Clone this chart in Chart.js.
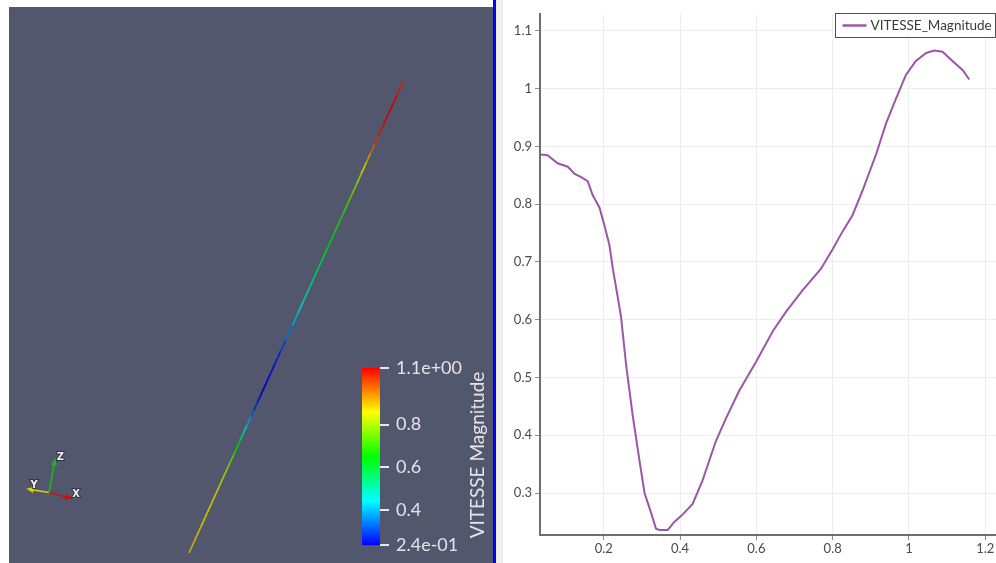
<!DOCTYPE html>
<html><head><meta charset="utf-8">
<script src="https://cdn.jsdelivr.net/npm/chart.js@4.4.1/dist/chart.umd.min.js"></script>
<style>
html,body{margin:0;padding:0;width:996px;height:563px;overflow:hidden;background:#fff;}
.abs{position:absolute;}
</style></head><body>
<div class="abs" style="left:9px;top:7px;width:484px;height:556px;background:#52576e"></div>
<canvas id="view3d" class="abs" width="484" height="556" style="left:9px;top:7px"></canvas>
<canvas id="cbar" class="abs" width="140" height="213" style="left:352px;top:350px"></canvas>
<div class="abs" style="left:493px;top:0;width:3px;height:563px;background:#0000ff"></div>
<div class="abs" style="left:496px;top:0;width:7px;height:563px;background:#f0f0f0"></div>
<canvas id="plot" class="abs" width="510" height="563" style="left:503px;top:0"></canvas>
<script>
// ---- data ----
const arcLength = [0.033,0.053,0.079,0.106,0.123,0.141,0.158,0.171,0.189,0.202,0.215,0.224,0.245,0.259,0.276,0.293,0.307,0.324,0.337,0.346,0.368,0.385,0.407,0.433,0.459,0.494,0.521,0.555,0.599,0.643,0.678,0.721,0.769,0.800,0.826,0.852,0.879,0.914,0.940,0.966,0.992,1.018,1.045,1.066,1.088,1.114,1.141,1.158];
const vitesse = [0.886,0.885,0.871,0.865,0.853,0.847,0.840,0.816,0.794,0.763,0.729,0.688,0.607,0.520,0.434,0.359,0.300,0.266,0.238,0.236,0.236,0.250,0.263,0.281,0.322,0.390,0.430,0.477,0.527,0.580,0.614,0.651,0.688,0.722,0.753,0.781,0.825,0.887,0.940,0.983,1.024,1.048,1.062,1.066,1.064,1.048,1.032,1.016];
const xTickValues = [0.2,0.4,0.6,0.8,1,1.2];
const yTickValues = [0.3,0.4,0.5,0.6,0.7,0.8,0.9,1,1.1];
const cbarTickValues = [0.4,0.6,0.8];
const seriesLabel = 'VITESSE_Magnitude';
const cbarTitle = 'VITESSE Magnitude';

const vmin = Math.min(...vitesse), vmax = Math.max(...vitesse);
const FONT = 'Lato';

// colormap (blue -> cyan -> green -> yellow -> red)
const cmapStops = [[0,[0,0,255]],[0.25,[0,255,255]],[0.5,[0,255,0]],[0.75,[255,255,0]],[1,[255,0,0]]];
function cmap(v, k){
  k = k===undefined?1:k;
  let f = (v - vmin)/(vmax - vmin); f = Math.max(0, Math.min(1, f));
  for (let i=1;i<cmapStops.length;i++){
    if (f <= cmapStops[i][0]){
      const [f0,c0]=cmapStops[i-1],[f1,c1]=cmapStops[i];
      const t=(f-f0)/(f1-f0);
      const c=c0.map((a,j)=>Math.round((a+(c1[j]-a)*t)*k));
      return `rgb(${c[0]},${c[1]},${c[2]})`;
    }
  }
  return 'rgb(255,0,0)';
}
function sci(v){
  let e=Math.floor(Math.log10(Math.abs(v)));
  let ms=(v/Math.pow(10,e)).toFixed(1);
  if (ms==='10.0'){e++; ms=(v/Math.pow(10,e)).toFixed(1);}
  return ms+'e'+(e<0?'-':'+')+String(Math.abs(e)).padStart(2,'0');
}

// ---- 3D view: the probe line, perspective projection of arc length ----
const s0 = arcLength[0], s1 = arcLength[arcLength.length-1], persp = 1.35;
function proj(s){ const t=(s-s0)/(s1-s0); return persp*t/(1+(persp-1)*t); }

const triadPlugin = {
  id:'triad',
  afterDraw(chart){
    const ctx=chart.ctx;
    const o=[40,485.5];
    const axes=[
      {tip:[18.5,482],col:'#d8d000',lab:'Y',lp:[25,478]},
      {tip:[62.5,491.5],col:'#cc1010',lab:'X',lp:[67,487]},
      {tip:[46,452.5],col:'#10c010',lab:'Z',lp:[51.5,450]}
    ];
    ctx.save();
    axes.forEach(a=>{
      ctx.strokeStyle=a.col; ctx.lineWidth=1.6;
      ctx.beginPath(); ctx.moveTo(o[0],o[1]); ctx.lineTo(a.tip[0],a.tip[1]); ctx.stroke();
      const dx=a.tip[0]-o[0], dy=a.tip[1]-o[1], L=Math.hypot(dx,dy), ux=dx/L, uy=dy/L;
      const bx=a.tip[0]-ux*6, by=a.tip[1]-uy*6;
      ctx.fillStyle=a.col;
      ctx.beginPath(); ctx.moveTo(a.tip[0]+ux*1,a.tip[1]+uy*1);
      ctx.lineTo(bx-uy*3,by+ux*3); ctx.lineTo(bx+uy*3,by-ux*3); ctx.closePath(); ctx.fill();
      ctx.font='bold 10px "DejaVu Sans"'; ctx.textAlign='center'; ctx.textBaseline='middle';
      ctx.lineWidth=2; ctx.strokeStyle='rgba(40,40,50,0.8)'; ctx.strokeText(a.lab,a.lp[0],a.lp[1]);
      ctx.fillStyle='#f0f0f0'; ctx.fillText(a.lab,a.lp[0],a.lp[1]);
    });
    ctx.restore();
  }
};

new Chart(document.getElementById('view3d'),{
  type:'scatter',
  data:{datasets:[{
    data: arcLength.map((s)=>({x:proj(s),y:proj(s)})),
    showLine:true, pointRadius:0, borderWidth:1.7, tension:0, clip:false,
    segment:{borderColor: c => cmap((vitesse[c.p0DataIndex]+vitesse[c.p1DataIndex])/2, 0.78)}
  }]},
  options:{responsive:false, animation:false, events:[],
    layout:{padding:0},
    plugins:{legend:{display:false},tooltip:{enabled:false}},
    scales:{
      x:{type:'linear',display:false,min:-0.8411,max:1.4206},
      y:{type:'linear',display:false,min:-0.02123,max:1.15924}
    }
  },
  plugins:[triadPlugin]
});

// ---- colour bar ----
const cbarTitlePlugin = {
  id:'cbarTitle',
  afterDraw(chart){
    const ctx=chart.ctx;
    ctx.save();
    ctx.translate(126,105); ctx.rotate(-Math.PI/2);
    ctx.font='19px '+FONT; ctx.fillStyle='#e4e4e8'; ctx.textAlign='center'; ctx.textBaseline='middle';
    ctx.fillText(cbarTitle,0,0);
    ctx.restore();
  }
};
new Chart(document.getElementById('cbar'),{
  type:'bar',
  data:{labels:[''],datasets:[{
    data:[[vmin,vmax]], barPercentage:1, categoryPercentage:1, borderWidth:0, borderSkipped:false,
    backgroundColor:(c)=>{
      const a=c.chart.chartArea; if(!a) return 'blue';
      const g=c.chart.ctx.createLinearGradient(0,a.bottom,0,a.top);
      cmapStops.forEach(([f,col])=>g.addColorStop(f,`rgb(${col[0]},${col[1]},${col[2]})`));
      return g;
    }
  }]},
  options:{responsive:false, animation:false, events:[],
    layout:{padding:{left:10,top:13.3,bottom:12.3,right:0}},
    plugins:{legend:{display:false},tooltip:{enabled:false}},
    scales:{
      x:{display:false},
      y:{position:'right',min:vmin,max:vmax,
        afterBuildTicks:s=>{s.ticks=[vmin,...cbarTickValues,vmax].map(value=>({value}));},
        afterFit:s=>{s.width=112;},
        ticks:{color:'#e4e4e8',font:{family:FONT,size:18},padding:7,autoSkip:false,
          callback:(v,i,t)=>(i===0||i===t.length-1)?sci(v):String(v)},
        grid:{drawOnChartArea:false,drawTicks:true,tickLength:9,color:'#e8e8e8',lineWidth:2},
        border:{display:false}
      }
    }
  },
  plugins:[cbarTitlePlugin]
});

// ---- line plot ----
const legendPlugin = {
  id:'boxLegend',
  afterDraw(chart){
    const ctx=chart.ctx, ds=chart.data.datasets[0], a=chart.chartArea;
    ctx.save();
    ctx.font='13.5px '+FONT;
    const left=Math.round(a.right-173)+0.5, right=Math.round(a.right-13)+0.5, top=13.5, h=24;
    ctx.fillStyle='#fff'; ctx.fillRect(left,top,right-left,h);
    ctx.strokeStyle='#505050'; ctx.lineWidth=1; ctx.strokeRect(left,top,right-left,h);
    ctx.strokeStyle=ds.borderColor; ctx.lineWidth=2.5;
    ctx.beginPath(); ctx.moveTo(left+7,top+12); ctx.lineTo(left+31,top+12); ctx.stroke();
    ctx.fillStyle='#3a3a3a'; ctx.textBaseline='middle'; ctx.textAlign='left';
    ctx.fillText(ds.label,left+35,top+12.5);
    ctx.restore();
  }
};
new Chart(document.getElementById('plot'),{
  type:'scatter',
  data:{datasets:[{label:seriesLabel,
    data:arcLength.map((x,i)=>({x,y:vitesse[i]})),
    showLine:true,borderColor:'#9b56a7',borderWidth:2,pointRadius:0,tension:0,fill:false}]},
  options:{responsive:false,animation:false,events:[],
    layout:{padding:{top:14,right:5,left:0,bottom:0}},
    plugins:{legend:{display:false},tooltip:{enabled:false}},
    scales:{
      x:{type:'linear',min:arcLength[0],max:1.2595,
        afterBuildTicks:s=>{s.ticks=xTickValues.map(value=>({value}));},
        afterFit:s=>{s.height=28;},
        ticks:{color:'#4a4a4a',font:{family:FONT,size:13},padding:1,maxRotation:0,autoSkip:false,callback:v=>String(v)},
        grid:{color:'#ededed',tickColor:'#8a8a8a',tickLength:5},
        border:{color:'#6e6e6e',width:2}
      },
      y:{type:'linear',min:0.2273,max:1.1294,
        afterBuildTicks:s=>{s.ticks=yTickValues.map(value=>({value}));},
        afterFit:s=>{s.width=37;},
        ticks:{color:'#4a4a4a',font:{family:FONT,size:13},padding:3,autoSkip:false,callback:v=>String(v)},
        grid:{color:'#ededed',tickColor:'#8a8a8a',tickLength:5},
        border:{color:'#6e6e6e',width:2}
      }
    }
  },
  plugins:[legendPlugin]
});
</script>
</body></html>
